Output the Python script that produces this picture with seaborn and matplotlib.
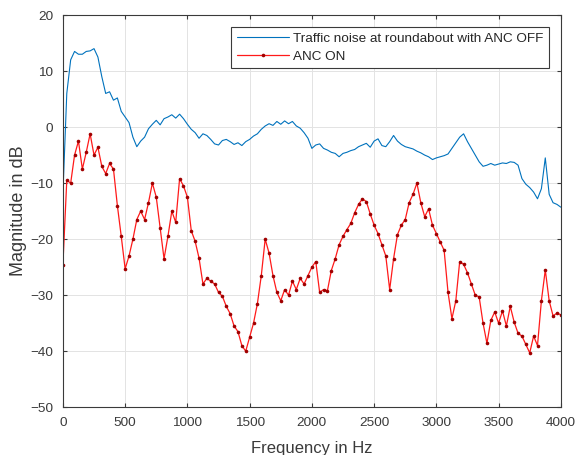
import numpy as np
import pandas as pd
import seaborn as sns
from matplotlib import pyplot as plt

# frequency bins (Hz), 31.25 Hz apart
freq = np.arange(129) * 31.25

anc_off = [-12, 6, 12, 13.5, 13, 13, 13.5, 13.6, 14, 12.5,
           9, 6, 6.3, 4.8, 5.2, 2.8, 1.8, 0.8, -1.8, -3.5,
           -2.5, -1.8, -0.3, 0.5, 1.2, 0.4, 1.5, 1.8, 2.2, 1.6,
           2.3, 1.5, 0.5, -0.4, -1, -2, -1.2, -1.5, -2.2, -3,
           -3.2, -2.4, -2.2, -2.6, -3.1, -2.8, -3.3, -2.6, -2.2, -1.6,
           -1.2, -0.4, 0.2, 0.6, 0.3, 1, 0.5, 1.1, 0.6, 1,
           0.2, -0.2, -1, -2, -3.8, -3.2, -3, -3.8, -4.1, -4.5,
           -4.7, -5.3, -4.7, -4.5, -4.2, -4, -3.5, -3.2, -2.9, -3.6,
           -2.5, -2.1, -3.3, -3.5, -2.6, -1.5, -2.5, -3.1, -3.5, -3.7,
           -3.9, -4.3, -4.6, -5, -5.3, -5.8, -5.5, -5.3, -5.1, -4.8,
           -3.8, -2.8, -1.8, -1.2, -2.6, -3.8, -5, -6.2, -7, -6.8,
           -6.5, -6.8, -6.6, -6.4, -6.5, -6.2, -6.3, -6.8, -9.2, -10.2,
           -10.8, -11.6, -12.8, -11, -5.5, -12, -13.5, -13.8, -14.3]

anc_on = [-24.6, -9.5, -10, -5, -2.5, -7.5, -4.5, -1.2, -5, -3.6,
          -7, -8.3, -6.5, -7.5, -14, -19.5, -25.3, -23, -20, -16.5,
          -15, -16.5, -13.5, -10, -12.5, -18, -23.5, -19.5, -15, -17,
          -9.2, -10.5, -12.5, -18.5, -20.4, -23.4, -28, -27, -27.5, -28,
          -29.5, -30.2, -32, -33.3, -35.5, -36.5, -39, -40, -37.5, -35,
          -31.5, -26.5, -20, -22.5, -26.5, -29.5, -31, -29, -30, -27.5,
          -29, -27, -28, -26.5, -25, -24, -29.5, -29, -29.2, -25.6,
          -23.5, -21, -19.5, -18.3, -17.2, -15.3, -13.8, -12.8, -13.3, -15.5,
          -17.5, -19, -21, -23, -29, -23.5, -19.2, -17.5, -16.5, -13.5,
          -12, -10, -13.5, -16, -14.6, -17.5, -19, -20.5, -22, -29.5,
          -34.2, -31, -24, -24.5, -26, -28, -30, -30.3, -35, -38.6,
          -34.5, -33, -35, -32.8, -35.5, -32, -34.8, -36.8, -37.3, -38.8,
          -40.3, -37.3, -39, -31, -25.5, -31, -33.7, -33.2, -33.5]

labels = ["Traffic noise at roundabout with ANC OFF", "ANC ON"]

df = pd.DataFrame({"freq": freq, "off": anc_off, "on": anc_on})

sns.set_style("ticks")
plt.rcParams['font.family'] = ['Liberation Sans', 'DejaVu Sans']

fig = plt.figure(figsize=(5.77, 4.55), dpi=100)
ax = fig.add_axes([0.109, 0.105, 0.863, 0.862])

sns.lineplot(data=df, x="freq", y="off", ax=ax, color="#0072BD",
             linewidth=0.8, label=labels[0])
sns.lineplot(data=df, x="freq", y="on", ax=ax, color="#ff1a1a",
             linewidth=0.9, marker="o", markersize=2.6, markeredgewidth=0,
             markerfacecolor="#a00000", label=labels[1])

ax.set_xlim(0, 4000)
ax.set_ylim(-50, 20)
ax.set_xticks(np.arange(0, 4001, 500))
ax.set_yticks(np.arange(-50, 21, 10))
ax.grid(True, color="#e3e3e3", linewidth=0.7)
ax.tick_params(direction="in", top=True, right=True, labelsize=9.7,
               colors="#3a3a3a", length=3, pad=7)
for s in ax.spines.values():
    s.set_color("#3a3a3a")
    s.set_linewidth(0.8)

ax.set_xlabel("Frequency in Hz", fontsize=12, labelpad=9, color="#3a3a3a")
ax.set_ylabel("Magnitude in dB", fontsize=13, labelpad=2, color="#3a3a3a")

leg = ax.legend(loc="upper right", bbox_to_anchor=(0.976, 0.969),
                borderaxespad=0, fontsize=9.7, fancybox=False,
                framealpha=1, edgecolor="#3a3a3a", handlelength=3.9,
                handletextpad=0.3, borderpad=0.4, labelspacing=0.4)
leg.get_frame().set_linewidth(0.8)
for t in leg.get_texts():
    t.set_color("#262626")

plt.savefig("out.png", dpi=100)
